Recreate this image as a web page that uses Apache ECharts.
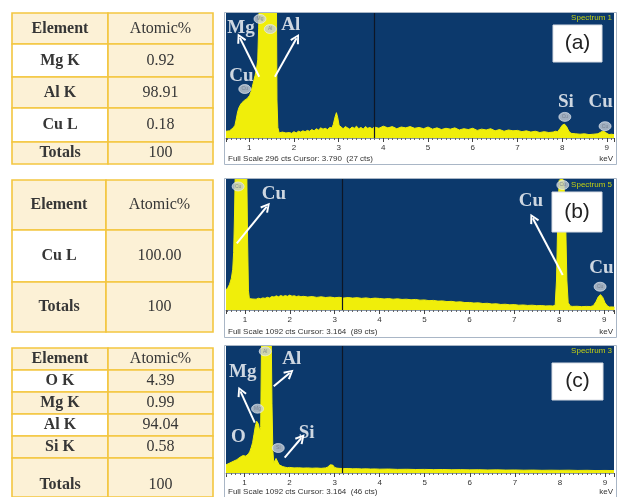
<!DOCTYPE html>
<html><head><meta charset="utf-8">
<script src="https://cdn.jsdelivr.net/npm/echarts@6/dist/echarts.min.js"></script>
<style>html,body{margin:0;padding:0;background:#fff}#c{width:619px;height:497px}</style>
</head><body><div id="c"></div>
<script>
// ================= DATA =================
const tableHeader = ['Element', 'Atomic%'];
const elementsA = ['Mg K', 'Al K', 'Cu L', 'Totals'];
const atomicA = ['0.92', '98.91', '0.18', '100'];
const elementsB = ['Cu L', 'Totals'];
const atomicB = ['100.00', '100'];
const elementsC = ['O K', 'Mg K', 'Al K', 'Si K', 'Totals'];
const atomicC = ['4.39', '0.99', '94.04', '0.58', '100'];

const tickLabels = [1, 2, 3, 4, 5, 6, 7, 8, 9];
const spectrumNames = ['Spectrum 1', 'Spectrum 5', 'Spectrum 3'];
const panelTags = ['(a)', '(b)', '(c)'];
const fullScale = [296, 1092, 1092];
const cursorKeV = [3.790, 3.164, 3.164];
const cursorCts = [27, 89, 46];

// Spectrum (a)
const energyA = [0.48,0.52,0.56,0.60,0.64,0.68,0.71,0.74,0.77,0.80,0.83,0.86,0.89,0.92,0.95,0.98,1.01,1.04,1.07,1.10,1.13,1.16,1.19,1.21,1.23,1.27,1.31,1.36,1.41,1.46,1.50,1.55,1.59,1.61,1.62,1.64,1.67,1.70,1.74,1.78,1.82,1.86,1.90,1.95,2.00,2.05,2.10,2.15,2.20,2.25,2.30,2.35,2.40,2.45,2.50,2.55,2.60,2.65,2.70,2.75,2.80,2.85,2.88,2.92,2.95,2.98,3.01,3.05,3.10,3.15,3.20,3.25,3.30,3.35,3.40,3.45,3.50,3.55,3.60,3.65,3.70,3.75,3.80,3.90,4.00,4.10,4.20,4.30,4.40,4.50,4.60,4.70,4.80,4.90,5.00,5.10,5.20,5.30,5.40,5.50,5.60,5.70,5.80,5.90,6.00,6.10,6.20,6.30,6.40,6.50,6.60,6.70,6.80,6.90,7.00,7.10,7.20,7.30,7.40,7.50,7.60,7.70,7.80,7.85,7.90,7.95,8.00,8.05,8.10,8.15,8.20,8.30,8.40,8.50,8.60,8.70,8.80,8.85,8.90,8.95,9.00,9.05,9.10,9.16];
const countsA = [16,18,17,21,24,30,45,62,72,78,83,86,89,91,93,97,101,110,122,135,148,162,185,260,340,380,400,420,440,460,450,420,380,300,90,25,12,9,14,10,12,9,13,11,15,12,16,14,17,15,18,16,20,17,22,19,24,21,23,20,25,24,32,50,60,48,30,26,22,27,24,21,26,23,28,22,25,21,27,23,25,22,26,23,28,24,27,22,26,24,27,23,25,22,26,21,24,20,23,21,24,19,22,20,23,18,21,19,22,17,20,16,19,17,18,15,17,14,16,13,15,13,14,16,15,22,30,33,27,16,11,10,9,10,8,9,10,13,16,15,11,8,9,8];

// Spectrum (b)
const energyB = [0.58,0.62,0.66,0.70,0.73,0.75,0.77,0.79,0.85,0.93,1.00,1.04,1.06,1.08,1.10,1.13,1.16,1.20,1.25,1.30,1.35,1.40,1.45,1.50,1.55,1.60,1.65,1.70,1.75,1.80,1.85,1.90,1.95,2.00,2.05,2.10,2.15,2.20,2.25,2.30,2.40,2.50,2.60,2.70,2.80,2.90,3.00,3.10,3.20,3.30,3.40,3.50,3.60,3.70,3.80,3.90,4.00,4.10,4.20,4.30,4.40,4.50,4.60,4.70,4.80,4.90,5.00,5.10,5.20,5.30,5.40,5.50,5.60,5.70,5.80,5.90,6.00,6.10,6.20,6.30,6.40,6.50,6.60,6.70,6.80,6.90,7.00,7.10,7.20,7.30,7.40,7.50,7.60,7.70,7.80,7.86,7.91,7.94,7.97,8.00,8.05,8.10,8.14,8.17,8.20,8.25,8.30,8.40,8.50,8.60,8.70,8.76,8.82,8.87,8.92,8.97,9.02,9.07,9.12,9.18,9.23];
const countsB = [167,185,215,265,340,480,800,1250,1400,1450,1400,1250,600,160,95,85,92,96,90,98,94,101,97,106,100,112,108,118,110,121,113,120,114,124,115,119,112,117,110,114,108,112,105,110,104,108,102,106,100,104,99,103,97,101,95,99,96,92,95,90,93,88,90,85,88,82,84,78,80,74,76,70,72,66,68,62,63,58,60,54,56,50,52,46,48,43,45,40,42,38,40,36,37,34,35,33,40,250,800,1080,1100,1080,800,250,60,32,30,31,28,30,29,36,70,110,128,105,60,35,25,26,24];

// Spectrum (c)
const energyC = [0.59,0.63,0.67,0.71,0.75,0.79,0.83,0.87,0.91,0.94,0.97,1.00,1.03,1.06,1.09,1.12,1.15,1.18,1.21,1.24,1.27,1.29,1.31,1.34,1.36,1.38,1.42,1.48,1.54,1.59,1.61,1.63,1.65,1.67,1.70,1.72,1.74,1.77,1.80,1.85,1.90,1.95,2.00,2.10,2.20,2.30,2.40,2.50,2.60,2.70,2.80,2.85,2.90,2.93,2.96,3.00,3.05,3.10,3.20,3.30,3.40,3.50,3.60,3.70,3.80,3.90,4.00,4.20,4.40,4.60,4.80,5.00,5.20,5.40,5.60,5.80,6.00,6.20,6.40,6.60,6.80,7.00,7.20,7.40,7.60,7.80,8.00,8.20,8.40,8.60,8.80,9.00,9.20];
const countsC = [70,78,85,92,100,108,115,125,138,143,150,158,145,140,165,186,220,260,330,400,445,456,420,358,400,1200,1500,1550,1500,1300,600,190,85,90,125,130,110,70,60,55,50,46,48,44,45,42,44,41,43,40,44,52,70,80,68,48,42,40,38,39,36,37,35,36,34,35,33,34,31,32,30,31,29,30,28,29,27,28,26,27,25,26,24,25,23,24,23,24,22,23,21,22,21];

// Element markers (energy keV, counts)
const markerTextA = ['Mg', 'Al', 'Cu', 'Cu', 'Cu'];
const markerPosA = [[1.24, 282], [1.47, 258], [0.90, 116], [8.06, 50], [8.96, 28]];
const markerTextB = ['Cu', 'Cu', 'Cu'];
const markerPosB = [[0.85, 1030], [8.08, 1042], [8.91, 194]];
const markerTextC = ['Al', 'Mg', 'Si'];
const markerPosC = [[1.46, 1046], [1.29, 553], [1.75, 215]];

// Annotation labels & arrows (energy keV, counts)
const labelTextA = ['Mg', 'Al', 'Cu', 'Si', 'Cu'];
const labelPosA = [[0.815, 260], [1.93, 268], [0.826, 146], [8.085, 86], [8.86, 86]];
const arrowsA = [[[1.223, 145], [0.792, 237]], [[1.574, 145], [2.058, 236]]];
const labelTextB = ['Cu', 'Cu', 'Cu'];
const labelPosB = [[1.649, 967], [7.37, 905], [8.94, 350]];
const arrowsB = [[[0.82, 556], [1.487, 862]], [[8.078, 292], [7.411, 765]]];
const labelTextC = ['Mg', 'Al', 'O', 'Si'];
const labelPosC = [[0.962, 867], [2.047, 979], [0.863, 308], [2.38, 342]];
const arrowsC = [[[1.228, 433], [0.911, 702]], [[1.649, 745], [2.003, 860]], [[1.892, 132], [2.262, 301]]];

// ================= LAYOUT / STYLE =================
const LAYOUT = {
  tables: [
    { left: 12, top: 13, colW: [96, 105], rowH: [31, 33, 31, 34, 22], totalTextOffset: null },
    { left: 12, top: 180, colW: [94, 107], rowH: [50, 52, 50], totalTextOffset: null },
    { left: 12, top: 348, colW: [96, 105], rowH: [22, 22, 22, 22, 22, 39], totalTextOffset: 27 }
  ],
  spectra: [
    { left: 226, top: 13, width: 388, height: 125, min: 0.48, max: 9.16, frame: [224, 12, 392, 152], foot: 159, name: 18, tag: [553, 25, 49, 37] },
    { left: 226, top: 179, width: 388, height: 131, min: 0.58, max: 9.22, frame: [224, 178, 392, 159], foot: 332, name: 185, tag: [552, 192, 50, 40] },
    { left: 226, top: 346, width: 388, height: 127, min: 0.59, max: 9.20, frame: [224, 345, 392, 160], foot: 492, name: 351, tag: [552, 363, 51, 37] }
  ]
};
const C = {
  navy: '#0c396c', yellow: '#f0ee0a', cream: '#fcf1d6', white: '#ffffff',
  gold: '#f3c640', text: '#363636', serif: '"Liberation Serif", "Times New Roman", serif',
  sans: '"Liberation Sans", Arial, sans-serif'
};
const arrowHead = 'path://M5,0 L10,9 L8.2,10 L5,3.6 L1.8,10 L0,9 Z';

// ================= BUILD =================
const grid = [], xAxis = [], yAxis = [], series = [], graphic = [];
const sum = (a, n) => a.slice(0, n).reduce((s, v) => s + v, 0);

function addTable(ti, names, vals) {
  const L = LAYOUT.tables[ti];
  const gi = grid.length;
  const W = sum(L.colW, L.colW.length), H = sum(L.rowH, L.rowH.length);
  grid.push({ left: L.left, top: L.top, width: W, height: H, show: false });
  xAxis.push({ gridIndex: gi, type: 'value', min: 0, max: W, show: false });
  yAxis.push({ gridIndex: gi, type: 'value', min: 0, max: H, inverse: true, show: false });
  const rows = [tableHeader].concat(names.map((n, i) => [n, vals[i]]));
  const data = [], texts = [];
  rows.forEach((r, ri) => r.forEach((t, ci) => { data.push([ci, ri]); texts.push(t); }));
  const nRows = rows.length;
  series.push({
    type: 'custom', xAxisIndex: gi, yAxisIndex: gi, clip: false, silent: true,
    data: data,
    renderItem: function (params, api) {
      const ci = api.value(0), ri = api.value(1);
      const x0 = sum(L.colW, ci), y0 = sum(L.rowH, ri);
      const p0 = api.coord([x0, y0]), p1 = api.coord([x0 + L.colW[ci], y0 + L.rowH[ri]]);
      const isHeader = ri === 0, isTotal = ri === nRows - 1;
      let fill = C.cream;
      if (!isHeader && !isTotal && ci === 0 && (ri - 1) % 2 === 0) fill = C.white;
      const bold = ci === 0;
      const cy = (isTotal && L.totalTextOffset) ? p0[1] + L.totalTextOffset : (p0[1] + p1[1]) / 2;
      return {
        type: 'group', children: [
          { type: 'rect', shape: { x: p0[0], y: p0[1], width: p1[0] - p0[0], height: p1[1] - p0[1] },
            style: { fill: fill, stroke: C.gold, lineWidth: 1.6 } },
          { type: 'text', style: { x: (p0[0] + p1[0]) / 2, y: cy, text: texts[params.dataIndex],
            align: 'center', verticalAlign: 'middle', fontFamily: C.serif, fontSize: 16,
            fontWeight: bold ? 'bold' : 'normal', fill: C.text } }
        ]
      };
    }
  });
}

function addSpectrum(si, energy, counts, mText, mPos, lText, lPos, arrows) {
  const L = LAYOUT.spectra[si];
  const gi = grid.length;
  grid.push({ left: L.left, top: L.top, width: L.width, height: L.height, show: true,
    backgroundColor: C.navy, borderWidth: 0 });
  xAxis.push({
    gridIndex: gi, type: 'value', min: L.min, max: L.max, splitNumber: 9,
    axisLine: { show: true, onZero: false, lineStyle: { color: '#8797ab', width: 1 } },
    axisTick: { show: true, length: 4, lineStyle: { color: '#444', width: 1 } },
    minorTick: { show: true, splitNumber: 10, length: 2, lineStyle: { color: '#666', width: 1 } },
    splitLine: { show: false },
    axisLabel: { show: true, fontSize: 8, color: '#333', margin: 6, fontFamily: C.sans,
      showMinLabel: false, showMaxLabel: false,
      formatter: v => tickLabels.indexOf(Math.round(v * 1000) / 1000) >= 0 ? String(Math.round(v)) : '' }
  });
  yAxis.push({ gridIndex: gi, type: 'value', min: 0, max: fullScale[si], show: false });
  series.push({
    type: 'line', xAxisIndex: gi, yAxisIndex: gi, clip: true, z: 2,
    data: energy.map((e, i) => [e, counts[i]]),
    showSymbol: false, symbol: 'none',
    lineStyle: { color: C.yellow, width: 1 },
    areaStyle: { color: C.yellow, opacity: 1 },
    markLine: { silent: true, symbol: ['none', 'none'], label: { show: false },
      lineStyle: { color: '#0e1626', width: 1.2, type: 'solid' },
      data: [{ xAxis: cursorKeV[si] }], animation: false }
  });
  series.push({
    type: 'scatter', xAxisIndex: gi, yAxisIndex: gi, z: 4, silent: true,
    symbol: 'circle', symbolSize: [12, 9],
    itemStyle: { color: '#c6cdd6', borderColor: '#eef1f5', borderWidth: 0.8 },
    label: { show: true, position: 'inside', formatter: '{b}', fontSize: 5, color: '#707b88' },
    data: mPos.map((p, i) => ({ value: p, name: mText[i] }))
  });
  series.push({
    type: 'lines', coordinateSystem: 'cartesian2d', xAxisIndex: gi, yAxisIndex: gi, z: 5, silent: true,
    symbol: ['none', arrowHead], symbolSize: [10, 10],
    lineStyle: { color: '#ffffff', width: 2, opacity: 1, curveness: 0 },
    data: arrows.map(a => ({ coords: a }))
  });
  series.push({
    type: 'scatter', xAxisIndex: gi, yAxisIndex: gi, z: 6, silent: true,
    symbol: 'circle', symbolSize: 1, itemStyle: { color: 'rgba(0,0,0,0)' },
    label: { show: true, position: 'inside', formatter: '{b}', color: '#ffffff',
      fontFamily: C.serif, fontSize: 19, fontWeight: 'bold' },
    data: lPos.map((p, i) => ({ value: p, name: lText[i] }))
  });
  const f = L.frame;
  graphic.push({ type: 'rect', z: 100, shape: { x: f[0] + 0.5, y: f[1] + 0.5, width: f[2], height: f[3] },
    style: { fill: 'none', stroke: '#a9b6c6', lineWidth: 1 } });
  graphic.push({ type: 'text', z: 100, style: { x: 228, y: L.foot,
    text: 'Full Scale ' + fullScale[si] + ' cts Cursor: ' + cursorKeV[si].toFixed(3) + '  (' + cursorCts[si] + ' cts)',
    fontFamily: C.sans, fontSize: 8, fill: '#333', verticalAlign: 'middle' } });
  graphic.push({ type: 'text', z: 100, style: { x: 613, y: L.foot, text: 'keV', align: 'right',
    fontFamily: C.sans, fontSize: 8, fill: '#333', verticalAlign: 'middle' } });
  graphic.push({ type: 'text', z: 100, style: { x: 612, y: L.name, text: spectrumNames[si], align: 'right',
    fontFamily: C.sans, fontSize: 8, fill: '#c2cf12', verticalAlign: 'middle' } });
  const t = L.tag;
  graphic.push({ type: 'rect', z: 100, shape: { x: t[0], y: t[1], width: t[2], height: t[3] },
    style: { fill: '#ffffff', stroke: '#d8dde4', lineWidth: 1 } });
  graphic.push({ type: 'text', z: 101, style: { x: t[0] + t[2] / 2, y: t[1] + t[3] / 2, text: panelTags[si],
    align: 'center', verticalAlign: 'middle', fontFamily: C.sans, fontSize: 21, fill: '#222' } });
}

addTable(0, elementsA, atomicA);
addTable(1, elementsB, atomicB);
addTable(2, elementsC, atomicC);
addSpectrum(0, energyA, countsA, markerTextA, markerPosA, labelTextA, labelPosA, arrowsA);
addSpectrum(1, energyB, countsB, markerTextB, markerPosB, labelTextB, labelPosB, arrowsB);
addSpectrum(2, energyC, countsC, markerTextC, markerPosC, labelTextC, labelPosC, arrowsC);

const chart = echarts.init(document.getElementById('c'), null, { renderer: 'canvas' });
chart.setOption({
  animation: false, backgroundColor: '#ffffff',
  grid: grid, xAxis: xAxis, yAxis: yAxis, series: series, graphic: graphic
});
</script>
</body></html>
